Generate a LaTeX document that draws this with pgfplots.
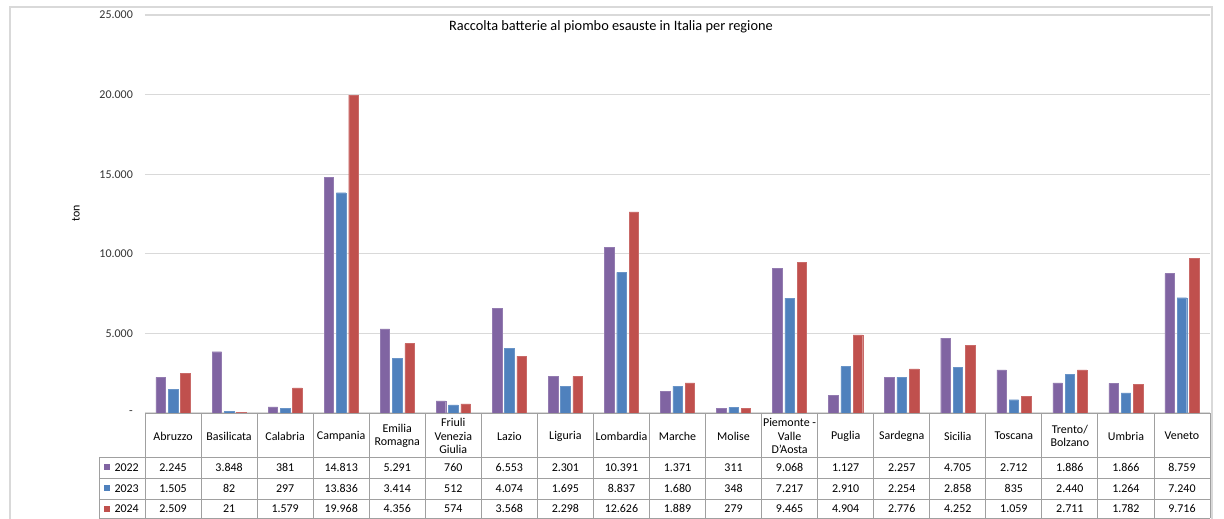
\documentclass[border=0pt]{standalone}
\usepackage{pgfplots}
\pgfplotsset{compat=1.18}
\usepackage{fontspec}
\setmainfont{Carlito}
\definecolor{c22}{HTML}{8064A2}
\definecolor{c23}{HTML}{4F81BD}
\definecolor{c24}{HTML}{C0504D}
\definecolor{gridc}{HTML}{D9D9D9}
\definecolor{tabc}{HTML}{A0A0A0}
\begin{document}
\fontsize{12}{14}\selectfont
\begin{tikzpicture}
\begin{axis}[
  at={(0,0)}, anchor=south west,
  scale only axis, width=1065bp, height=398bp,
  xmin=-0.5, xmax=18.5, ymin=0, ymax=25000,
  ybar=2.8bp, bar width=9.5bp,
  axis line style={draw=none},
  xtick=\empty,
  scaled y ticks=false,
  ytick={0,5000,10000,15000,20000,25000},
  yticklabels={-,5.000,10.000,15.000,20.000,25.000},
  yticklabel style={font=\fontsize{12}{14}\selectfont, text=black!80, xshift=-8bp},
  major tick length=0pt,
  ymajorgrids, grid style={gridc, line width=1.2bp},
  clip=false,
]
\addplot[fill=c22, draw=c22!85!white] coordinates {(0,2245) (1,3848) (2,381) (3,14813) (4,5291) (5,760) (6,6553) (7,2301) (8,10391) (9,1371) (10,311) (11,9068) (12,1127) (13,2257) (14,4705) (15,2712) (16,1886) (17,1866) (18,8759)};
\addplot[fill=c23, draw=c23!85!white] coordinates {(0,1505) (1,82) (2,297) (3,13836) (4,3414) (5,512) (6,4074) (7,1695) (8,8837) (9,1680) (10,348) (11,7217) (12,2910) (13,2254) (14,2858) (15,835) (16,2440) (17,1264) (18,7240)};
\addplot[fill=c24, draw=c24!85!white] coordinates {(0,2509) (1,21) (2,1579) (3,19968) (4,4356) (5,574) (6,3568) (7,2298) (8,12626) (9,1889) (10,279) (11,9465) (12,4904) (13,2776) (14,4252) (15,1059) (16,2711) (17,1782) (18,9716)};
\end{axis}
\begin{scope}[x=1bp,y=1bp]
  \draw[gridc, line width=1.5bp] (-135,-130) rectangle (1067,406);
  \node[font=\fontsize{14.4}{16}\selectfont] at (466,386) {Raccolta batterie al piombo esauste in Italia per regione};
  \node[rotate=90, font=\fontsize{12}{14}\selectfont] at (-69,200) {ton};
  % table grid
  \begin{scope}[tabc, line width=0.9bp]
    \draw (0,0) -- (1065,0);
    \draw (-46,-44) -- (1065,-44);
    \draw (-46,-65) -- (1065,-65);
    \draw (-46,-86) -- (1065,-86);
    \draw (-46,-105) -- (1065,-105);
    \draw (-46,-44) -- (-46,-105);
    \foreach \k in {0,...,19} \draw ({\k*56.0526},0) -- ({\k*56.0526},-105);
  \end{scope}
  % row labels
  \fill[c22] (-41,-57.5) rectangle (-35,-51.5);
  \fill[c23] (-41,-78.5) rectangle (-35,-72.5);
  \fill[c24] (-41,-99.5) rectangle (-35,-93.5);
  \node[anchor=east, inner sep=0pt] at (-6,-54.5) {2022};
  \node[anchor=east, inner sep=0pt] at (-6,-75.5) {2023};
  \node[anchor=east, inner sep=0pt] at (-6,-95.5) {2024};
  % table contents
  \foreach \i/\n/\a/\b/\c in {
    0/Abruzzo/2.245/1.505/2.509,
    1/Basilicata/3.848/82/21,
    2/Calabria/381/297/1.579,
    3/Campania/14.813/13.836/19.968,
    4/{Emilia\\Romagna}/5.291/3.414/4.356,
    5/{Friuli\\Venezia\\Giulia}/760/512/574,
    6/Lazio/6.553/4.074/3.568,
    7/Liguria/2.301/1.695/2.298,
    8/Lombardia/10.391/8.837/12.626,
    9/Marche/1.371/1.680/1.889,
    10/Molise/311/348/279,
    11/{Piemonte -\\Valle\\D'Aosta}/9.068/7.217/9.465,
    12/Puglia/1.127/2.910/4.904,
    13/Sardegna/2.257/2.254/2.776,
    14/Sicilia/4.705/2.858/4.252,
    15/Toscana/2.712/835/1.059,
    16/{Trento/\\Bolzano}/1.886/2.440/2.711,
    17/Umbria/1.866/1.264/1.782,
    18/Veneto/8.759/7.240/9.716}{
    \node[align=center, inner sep=0pt, font=\fontsize{12}{13.5}\selectfont] at ({(\i+0.5)*56.0526},-23) {\n};
    \node[inner sep=0pt] at ({(\i+0.5)*56.0526},-54.5) {\a};
    \node[inner sep=0pt] at ({(\i+0.5)*56.0526},-75.5) {\b};
    \node[inner sep=0pt] at ({(\i+0.5)*56.0526},-95.5) {\c};
  }
  \pgfresetboundingbox
  \useasboundingbox (-145,-106) rectangle (1079,413);
\end{scope}
\end{tikzpicture}
\end{document}
